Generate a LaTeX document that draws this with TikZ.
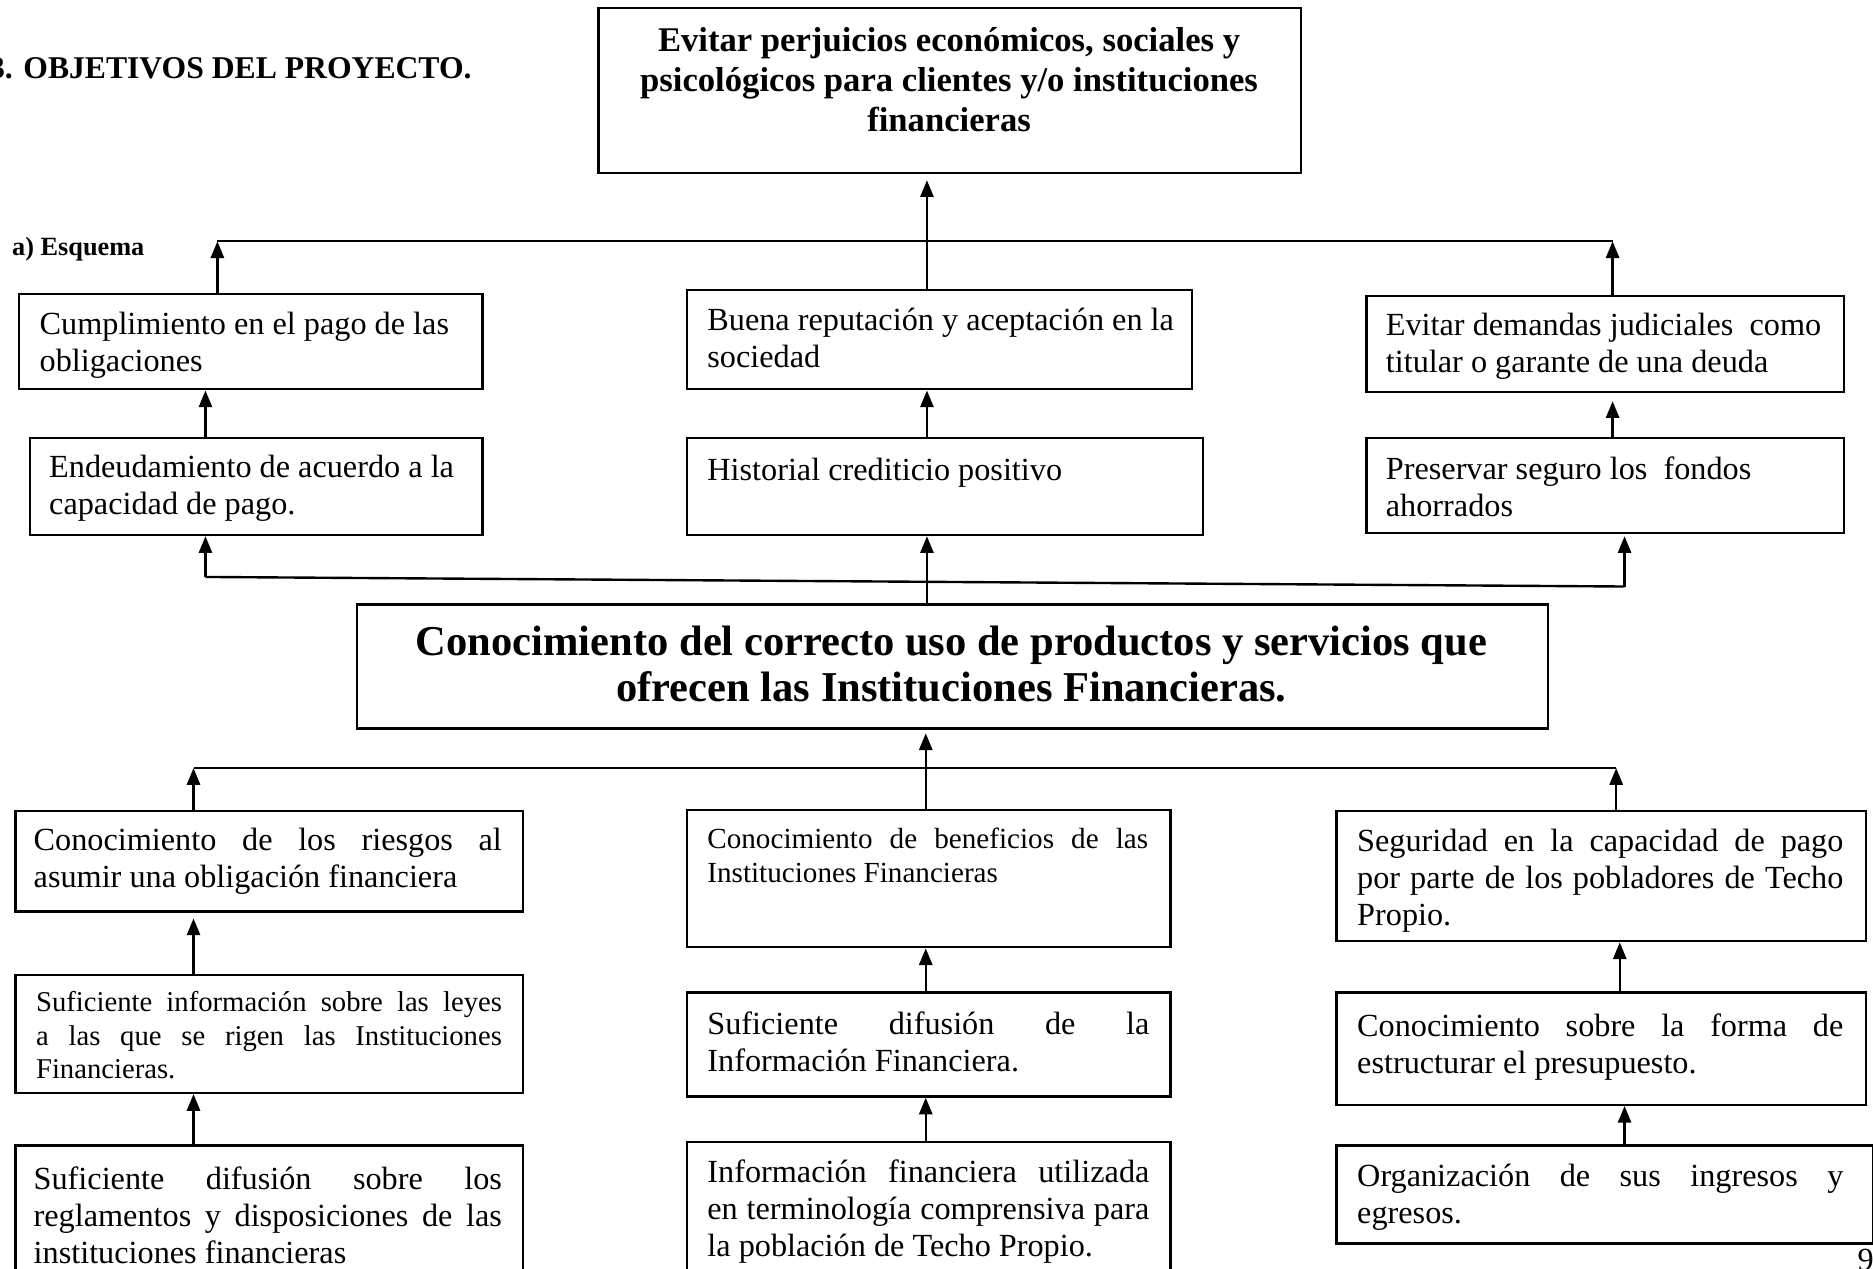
\documentclass[tikz,border=0pt]{standalone}
\usepackage{fontspec}
\setmainfont{Liberation Serif}
\usetikzlibrary{arrows.meta,calc}
\tolerance=10000 \hbadness=10000 \hyphenpenalty=10000 \exhyphenpenalty=10000
\newcommand{\fsN}{\fontsize{27}{31}\selectfont}
\newcommand{\fsS}{\fontsize{24}{28}\selectfont}
\newcommand{\mkbox}[5]{\node[box, minimum width={#4-#2}, minimum height={#5-#3}] (#1) at (#2,#3) {};}
\newcommand{\mktext}[5]{\node[txt] (#1) at (#2,#3) {\parbox[t]{#4pt}{#5}};}
\begin{document}
\begin{tikzpicture}[x=1pt,y=-1pt,
  box/.style={draw, line width=1.9pt, inner sep=0pt, anchor=north west, rectangle},
  txt/.style={anchor=base west, inner sep=0pt},
  ln/.style={line width=2pt},
  arr/.style={ln, -{Triangle[length=14pt,width=11pt]}}]
\useasboundingbox (0,0) rectangle (1568,1062);
% titles
\node[anchor=base east, inner sep=0pt, font=\fontsize{26.5}{30}\selectfont\bfseries] (title) at (395,66) {3. OBJETIVOS DEL PROYECTO.};
\node[anchor=base west, inner sep=0pt, font=\fontsize{22}{24}\selectfont\bfseries] (esq) at (10,214) {a) Esquema};
% boxes
\mkbox{t}{500}{6}{1088}{144}
\mkbox{a1}{15}{245}{403}{325}
\mkbox{a2}{24}{366}{403}{447}
\mkbox{b1}{574}{242}{997}{325}
\mkbox{b2}{574}{366}{1006}{447}
\mkbox{c1}{1143}{247}{1543}{327}
\mkbox{c2}{1143}{366}{1543}{445}
\mkbox{m}{298}{505}{1295}{609}
\mkbox{d1}{12}{678}{437}{762}
\mkbox{d2}{12}{815}{437}{914}
\mkbox{d3}{12}{958}{437}{1085}
\mkbox{e1}{574}{677}{979}{792}
\mkbox{e2}{574}{830}{979}{917}
\mkbox{e3}{574}{955}{979}{1085}
\mkbox{f1}{1118}{678}{1561}{787}
\mkbox{f2}{1118}{830}{1561}{924}
\mkbox{f3}{1118}{958}{1567}{1040}
% texts
\node[anchor=base, inner sep=0pt] (tt) at (794.5,43) {\parbox[t]{620pt}{\centering\fontsize{29}{33.5}\selectfont\bfseries Evitar perjuicios económicos, sociales y\\ psicológicos para clientes y/o instituciones\\ financieras}};
\node[anchor=base, inner sep=0pt] (mt) at (796.5,549) {\parbox[t]{990pt}{\centering\fontsize{35.6}{38}\selectfont\bfseries Conocimiento del correcto uso de productos y servicios que\\ ofrecen las Instituciones Financieras.}};
\mktext{a1t}{33}{280}{380}{\raggedright\fsN Cumplimiento en el pago de las\\ obligaciones}
\mktext{a2t}{41}{400}{380}{\raggedright\fsN Endeudamiento de acuerdo a la\\ capacidad de pago.}
\mktext{b1t}{592}{277}{420}{\raggedright\fsN Buena reputación y aceptación en la\\ sociedad}
\mktext{b2t}{592}{402}{420}{\raggedright\fsN Historial crediticio positivo}
\mktext{c1t}{1160}{281}{420}{\raggedright\fsN Evitar demandas judiciales\ \ como\\ titular o garante de una deuda}
\mktext{c2t}{1160}{401}{420}{\raggedright\fsN Preservar seguro los\ \ fondos\\ ahorrados}
\mktext{d1t}{28}{712}{392}{\fsN Conocimiento de los riesgos al\linebreak asumir una obligación financiera}
\mktext{d2t}{30}{847}{390}{\fsS Suficiente información sobre las leyes\linebreak a las que se rigen las Instituciones\linebreak Financieras.}
\mktext{d3t}{28}{996}{392}{\fsN Suficiente difusión sobre los\linebreak reglamentos y disposiciones de las\linebreak instituciones financieras}
\mktext{e1t}{592}{710}{369}{\fontsize{24.4}{29}\selectfont Conocimiento de beneficios de las\linebreak Instituciones Financieras}
\mktext{e2t}{592}{866}{370}{\fsN Suficiente difusión de la\linebreak Información Financiera.}
\mktext{e3t}{592}{990}{370}{\fsN Información financiera utilizada\linebreak en terminología comprensiva para\linebreak la población de Techo Propio.}
\mktext{f1t}{1136}{713}{407}{\fsN Seguridad en la capacidad de pago\linebreak por parte de los pobladores de Techo\linebreak Propio.}
\mktext{f2t}{1136}{868}{407}{\fsN Conocimiento sobre la forma de\linebreak estructurar el presupuesto.}
\mktext{f3t}{1136}{993}{407}{\fsN Organización de sus ingresos y\linebreak egresos.}
\node[anchor=base west, inner sep=0pt, font=\fsN] (pg) at (1555,1064) {9};
% connectors top
\coordinate (hl) at (182,202);
\coordinate (hr) at (1350,202);
\coordinate (xt) at (776,0);
\coordinate (xa) at (172,0);
\draw[ln] (hl) -- (hr);
\draw[arr] (a1.north -| hl) -- (hl);
\draw[arr] (c1.north -| hr) -- (hr);
\draw[arr, shorten >=5pt] (b1.north -| xt) -- (t.south -| xt);
\draw[arr] (a2.north -| xa) -- (a1.south -| xa);
\draw[arr] (b2.north -| xt) -- (b1.south -| xt);
\draw[arr, shorten >=7pt] (c2.north -| hr) -- (c1.south -| hr);
% connectors middle
\coordinate (sl) at (172,483);
\coordinate (sr) at (1360,491);
\draw[ln] (sl) -- (sr);
\draw[arr] (sl) -- (a2.south -| sl);
\draw[arr, shorten >=2pt] (sr) -- (c2.south -| sr);
\draw[arr] (m.north -| xt) -- (b2.south -| xt);
% connectors bottom
\coordinate (bl) at (162,643);
\coordinate (br) at (1353,643);
\coordinate (xe) at (775,0);
\coordinate (xf1) at (1356,0);
\coordinate (xf2) at (1360,0);
\draw[ln] (bl) -- (br);
\draw[arr] (d1.north -| bl) -- (bl);
\draw[arr] (f1.north -| br) -- (br);
\draw[arr, shorten >=3pt] (e1.north -| xe) -- (m.south -| xe);
\draw[arr, shorten >=5pt] (d2.north -| bl) -- (d1.south -| bl);
\draw[arr] (d3.north -| bl) -- (d2.south -| bl);
\draw[arr] (e2.north -| xe) -- (e1.south -| xe);
\draw[arr] (e3.north -| xe) -- (e2.south -| xe);
\draw[arr] (f2.north -| xf1) -- (f1.south -| xf1);
\draw[arr] (f3.north -| xf2) -- (f2.south -| xf2);
\end{tikzpicture}
\end{document}
